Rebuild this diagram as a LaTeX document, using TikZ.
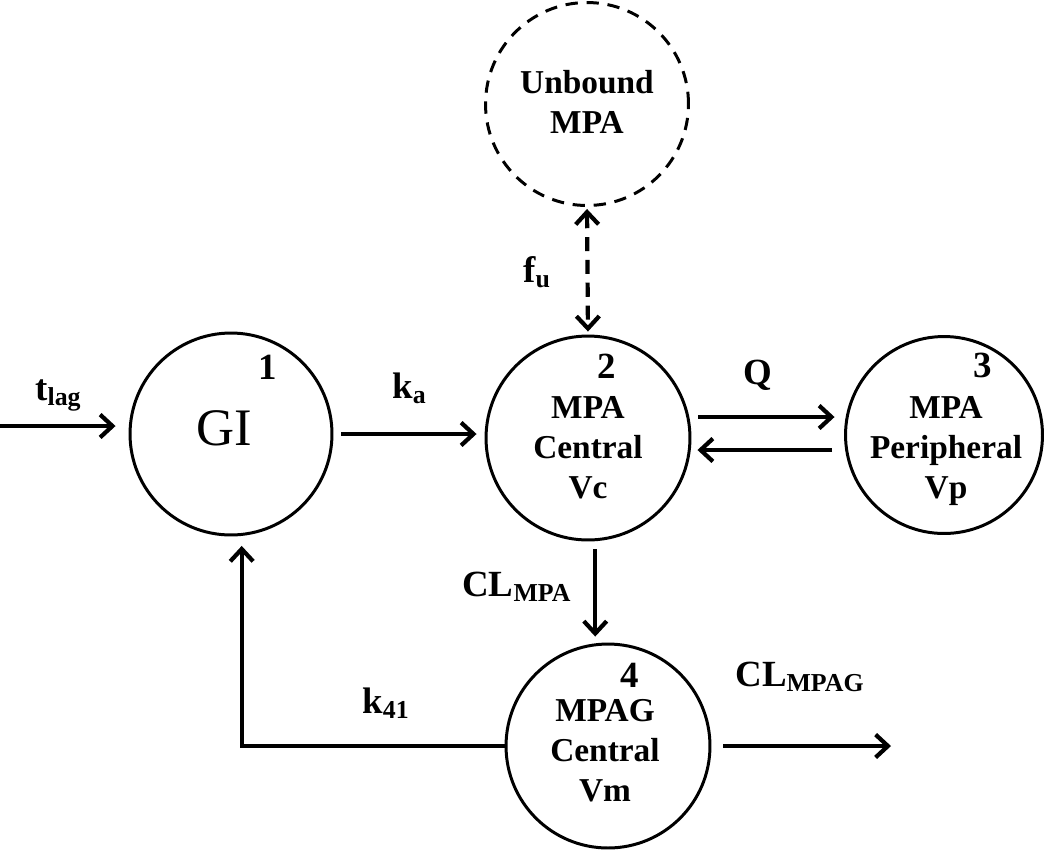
\documentclass[tikz,border=0pt]{standalone}
\usepackage{fontspec}
\setmainfont{Liberation Serif}
\usetikzlibrary{arrows.meta}

\begin{document}
\begin{tikzpicture}[x=0.02cm,y=-0.02cm]
  \tikzset{comp/.style = {shape=circle,draw,line width=1.7pt,minimum size=4.08cm,inner sep=0pt}}
  \tikzset{ctext/.style = {align=center,inner sep=0pt,font=\fontsize{19}{22.7}\selectfont\bfseries}}
  \tikzset{num/.style = {anchor=base,inner sep=0pt,font=\fontsize{21}{21}\selectfont\bfseries}}
  \tikzset{rate/.style = {anchor=base west,inner sep=0pt,font=\fontsize{21}{21}\selectfont\bfseries}}
  \tikzset{>={Straight Barb[length=7pt,width=13pt]}}
  \tikzset{flow/.style = {->,line width=2.4pt}}

  \useasboundingbox (0,0) rectangle (1050,853);

	\node[comp,minimum size=4.06cm,dash pattern=on 7pt off 5pt] (U) at (587,104) {};
	\node[comp,minimum size=4.04cm] (GI) at (231,434) {};
	\node[comp] (C) at (588,438) {};
	\node[comp,minimum size=3.94cm] (P) at (944,435) {};
	\node[comp] (M) at (608,746) {};

	\node[ctext] (Ut) at (587,102) {Unbound\\MPA};
	\node[inner sep=0pt,font=\fontsize{30}{30}\selectfont] (GIt) at (224,428) {GI};
	\node[ctext] (Ct) at (588,448) {MPA\\Central\\Vc};
	\node[ctext] (Pt) at (946,451) {MPA\\Peripheral\\Vp};
	\node[ctext] (Mt) at (605,751) {MPAG\\Central\\Vm};

	\foreach \n/\x/\y in {1/268/379, 2/607/378, 3/983/377, 4/630/687}
	  \node[num] (n\n) at (\x,\y) {\n};

	\node[rate] (tlag) at (35,400) {t\textsubscript{lag}};
	\node[rate] (ka) at (392,398) {k\textsubscript{a}};
	\node[rate,anchor=base] (Q) at (758,384) {Q};
	\node[rate] (fu) at (523,282) {f\textsubscript{u}};
	\node[rate] (clmpa) at (462,596) {CL\textsubscript{MPA}};
	\node[rate] (k41) at (362,713) {k\textsubscript{41}};
	\node[rate] (clmpag) at (735,686) {CL\textsubscript{MPAG}};

	\coordinate (in) at (0,426);
	\coordinate (out) at (891,746);
	\coordinate (qa) at ([yshift=0.42cm]C.east);
	\coordinate (qb) at ([yshift=-0.3cm]P.west);
	\coordinate (cl) at (C.-86);

	\draw[flow,shorten >=0.26cm] (in) -- (in -| GI.west);
	\draw[flow,shorten <=0.16cm,shorten >=0.16cm] (GI.east) -- (GI.east -| C.west);
	\draw[flow,shorten <=0.14cm,shorten >=0.19cm] (qa) -- (qa -| P.west);
	\draw[flow,shorten <=0.24cm,shorten >=0.12cm] (qb) -- (qb -| C.east);
	\draw[flow,<->,dash pattern=on 8pt off 5pt,shorten <=0.04cm,shorten >=0.06cm] (U.south) -- (C.north);
	\draw[flow,shorten <=0.16cm,shorten >=0.12cm] (cl) -- (cl |- M.north);
	\draw[flow,shorten >=0.2cm] (M.west) -| (GI.-84);
	\draw[flow,shorten <=0.24cm] (M.east) -- (out);
\end{tikzpicture}
\end{document}
